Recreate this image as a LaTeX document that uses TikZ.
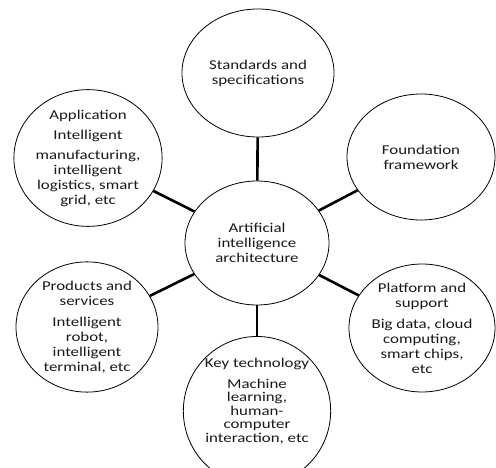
\documentclass[tikz,border=0pt]{standalone}
\usepackage{fontspec}
\setmainfont{Carlito}[FakeStretch=1.25]
\usetikzlibrary{shapes.geometric}

\begin{document}
\begin{tikzpicture}[
x=1pt, y=-1pt,
every node/.style={
draw,
ellipse,
line width=0.8pt,
inner sep=0pt,
align=center,
font=\fontsize{13.5}{15}\selectfont,
text=black!90
},
link/.style={line width=2.6pt, black}
]
\useasboundingbox (0,0) rectangle (496,468);
\node[minimum width=144pt, minimum height=124pt] (arch) at (257,243) {Artificial\\intelligence\\architecture};
\node[minimum width=152pt, minimum height=128pt] (std) at (258,73) {Standards and\\specifications};
\node[minimum width=148pt, minimum height=126pt] (fnd) at (421,157) {Foundation\\framework};
\node[minimum width=146pt, minimum height=120pt] (plt) at (422,328) {Platform and\\support\\[6pt]Big data, cloud\\computing,\\smart chips,\\etc};
\node[minimum width=140pt, minimum height=112pt, font=\fontsize{13.5}{13.5}\selectfont] (key) at (257,411) {Key technology\\[7pt]Machine\\learning,\\human-\\computer\\interaction, etc\\[8pt]};
\node[minimum width=142pt, minimum height=120pt] (prd) at (87,327) {Products and\\services\\[6pt]Intelligent\\robot,\\intelligent\\terminal, etc};
\node[minimum width=146pt, minimum height=128pt] (app) at (88,158) {Application\\[5pt]Intelligent\\[5pt]manufacturing,\\intelligent\\logistics, smart\\grid, etc};
% spokes from the hub
\foreach \i in {std, fnd, plt, key, prd, app}
\draw[link] (arch) -- (\i);
\end{tikzpicture}
\end{document}
